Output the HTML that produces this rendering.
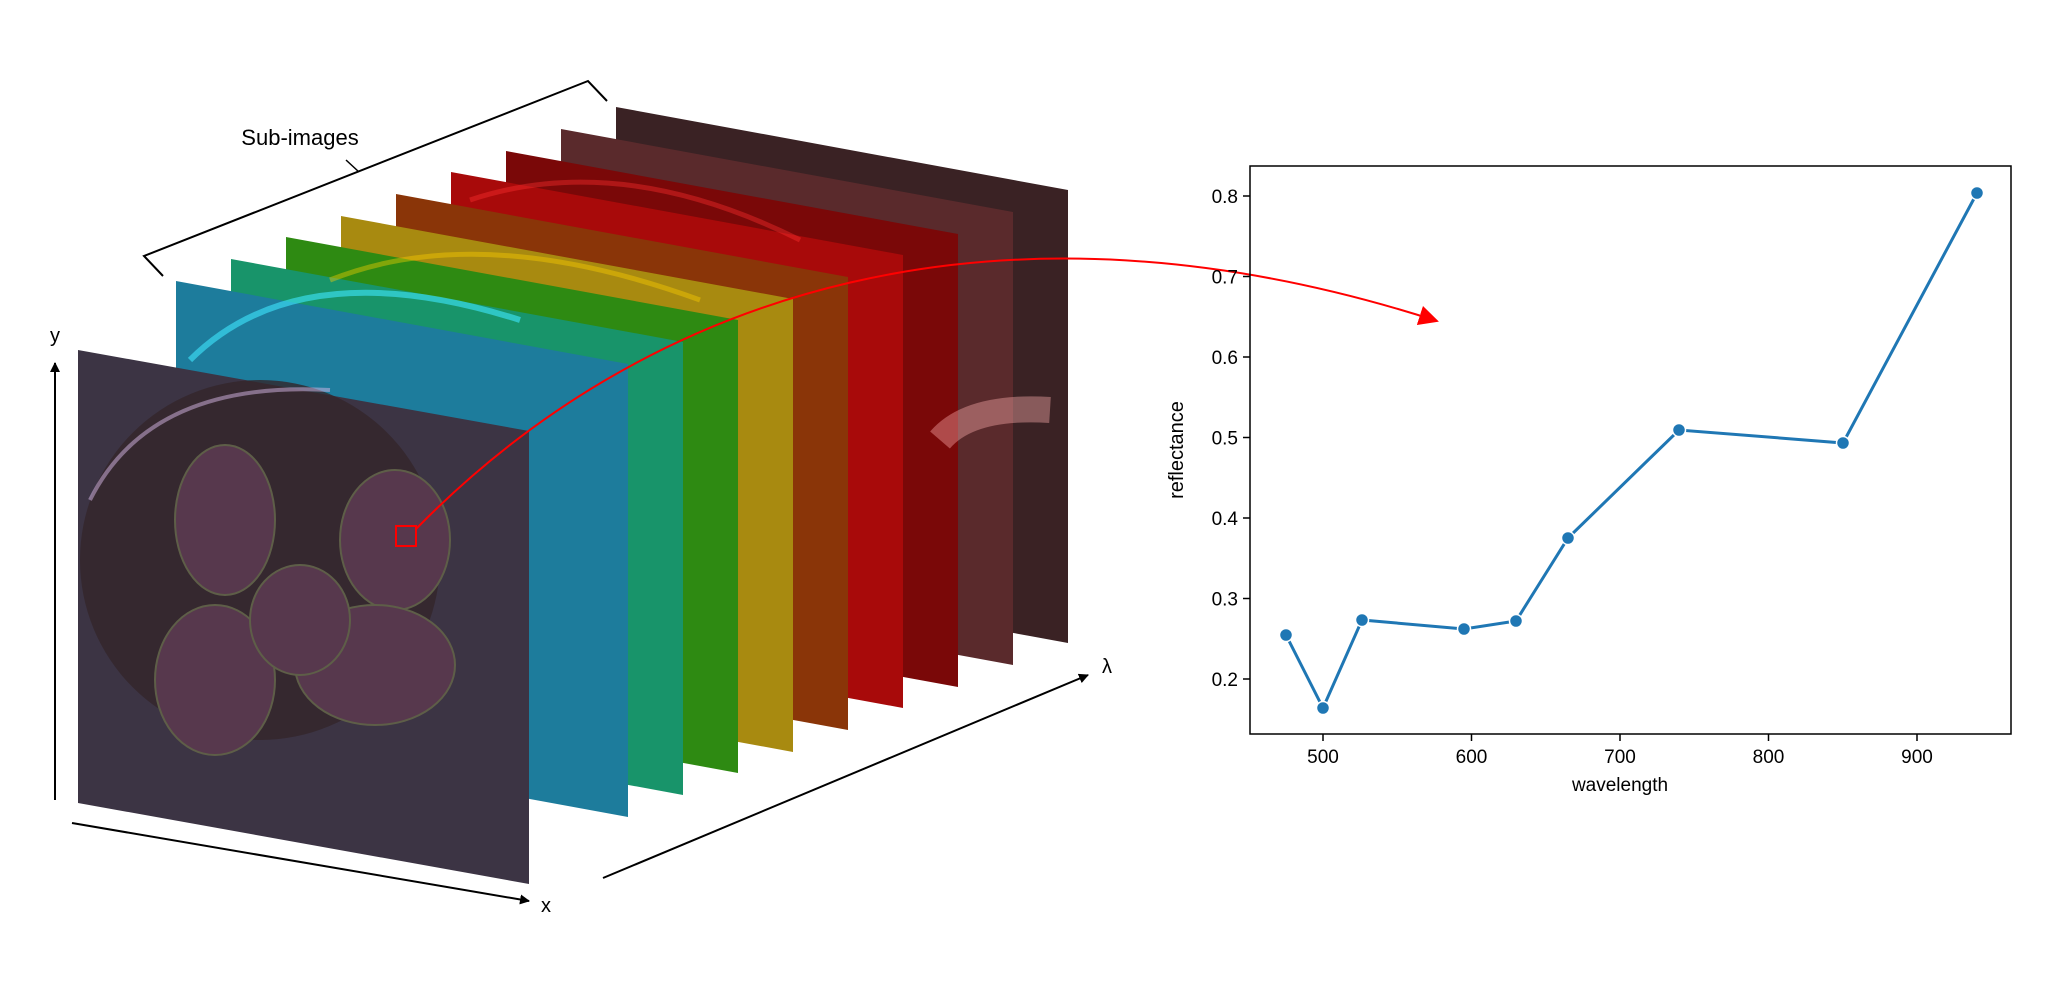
<!DOCTYPE html>
<html><head><meta charset="utf-8"><style>html,body{margin:0;padding:0;background:#fff}svg{display:block}</style></head>
<body>
<svg width="2048" height="982" viewBox="0 0 2048 982" xmlns="http://www.w3.org/2000/svg" font-family="Liberation Sans, DejaVu Sans, sans-serif">
<defs>
<marker id="ah" viewBox="0 0 10 10" refX="9" refY="5" markerWidth="10" markerHeight="10" orient="auto" markerUnits="userSpaceOnUse"><path d="M0,0 L10,5 L0,10 z" fill="#000"/></marker>
<marker id="ahr" viewBox="0 0 10 10" refX="9" refY="5" markerWidth="20" markerHeight="20" orient="auto" markerUnits="userSpaceOnUse"><path d="M0,0 L10,5 L0,10 z" fill="#f00"/></marker>
</defs>
<g>
<polygon points="616,107 1068,190 1068,643 616,560" fill="#3a2224"/>
<polygon points="561,129 1013,212 1013,665 561,582" fill="#5a2a2c"/>
<polygon points="506,151 958,234 958,687 506,604" fill="#7a0808"/>
<polygon points="451,172 903,255 903,708 451,625" fill="#a80a0a"/>
<polygon points="396,194 848,277 848,730 396,647" fill="#8a3508"/>
<polygon points="341,216 793,299 793,752 341,669" fill="#a88a10"/>
<polygon points="286,237 738,320 738,773 286,690" fill="#2e8a12"/>
<polygon points="231,259 683,342 683,795 231,712" fill="#18946a"/>
<polygon points="176,281 628,364 628,817 176,734" fill="#1d7c9c"/>
<path d="M190,360 Q300,250 520,320" stroke="#40e8ff" stroke-width="6" fill="none" opacity="0.6"/>
<path d="M330,280 Q480,220 700,300" stroke="#ffd000" stroke-width="5" fill="none" opacity="0.4"/>
<path d="M470,200 Q620,150 800,240" stroke="#ff3030" stroke-width="5" fill="none" opacity="0.4"/>
<path d="M940,440 Q970,405 1050,410" stroke="#ffb0b0" stroke-width="26" fill="none" opacity="0.4"/>
<!-- front -->
<polygon points="78,350 529,431 529,884 78,803" fill="#3c3444"/>
<ellipse cx="260" cy="560" rx="180" ry="180" fill="#33262a" opacity="0.8"/>
<path d="M90,500 Q150,380 330,390" stroke="#d8b8e8" stroke-width="4" fill="none" opacity="0.5"/>
<g fill="#57384d" stroke="#5e5e48" stroke-width="2">
<ellipse cx="225" cy="520" rx="50" ry="75"/>
<ellipse cx="395" cy="540" rx="55" ry="70"/>
<ellipse cx="215" cy="680" rx="60" ry="75"/>
<ellipse cx="375" cy="665" rx="80" ry="60"/>
<ellipse cx="300" cy="620" rx="50" ry="55"/>
</g>
<rect x="396" y="526" width="20" height="20" fill="none" stroke="#f00" stroke-width="2"/>
</g>
<line x1="55" y1="800" x2="55" y2="363" stroke="#000" stroke-width="2" marker-end="url(#ah)"/>
<text x="55" y="342" font-size="20" text-anchor="middle">y</text>
<line x1="72" y1="823" x2="529" y2="901" stroke="#000" stroke-width="2" marker-end="url(#ah)"/>
<text x="546" y="912" font-size="20" text-anchor="middle">x</text>
<line x1="603" y1="878" x2="1088" y2="675" stroke="#000" stroke-width="2" marker-end="url(#ah)"/>
<text x="1107" y="673" font-size="20" text-anchor="middle">λ</text>
<polyline points="163,276 144,256 588,81 607,101" fill="none" stroke="#000" stroke-width="2"/>
<line x1="346" y1="160" x2="359" y2="172" stroke="#000" stroke-width="1.5"/>
<text x="300" y="145" font-size="22" text-anchor="middle">Sub-images</text>
<path d="M416,529 C650,290 1000,180 1437,321" fill="none" stroke="#f00" stroke-width="2" marker-end="url(#ahr)"/>
<rect x="1250" y="166" width="761" height="568" fill="none" stroke="#000" stroke-width="1.5"/>
<g stroke="#000" stroke-width="1.5">
<line x1="1323" y1="734" x2="1323" y2="741"/><line x1="1471.5" y1="734" x2="1471.5" y2="741"/><line x1="1620" y1="734" x2="1620" y2="741"/><line x1="1768.5" y1="734" x2="1768.5" y2="741"/><line x1="1917" y1="734" x2="1917" y2="741"/>
<line x1="1243" y1="196" x2="1250" y2="196"/><line x1="1243" y1="276.5" x2="1250" y2="276.5"/><line x1="1243" y1="357" x2="1250" y2="357"/><line x1="1243" y1="437.5" x2="1250" y2="437.5"/><line x1="1243" y1="518" x2="1250" y2="518"/><line x1="1243" y1="598.5" x2="1250" y2="598.5"/><line x1="1243" y1="679" x2="1250" y2="679"/>
</g>
<g font-size="19" text-anchor="middle">
<text x="1323" y="763">500</text><text x="1471.5" y="763">600</text><text x="1620" y="763">700</text><text x="1768.5" y="763">800</text><text x="1917" y="763">900</text>
<text x="1620" y="791">wavelength</text>
</g>
<g font-size="19" text-anchor="end">
<text x="1238" y="203">0.8</text><text x="1238" y="283.5">0.7</text><text x="1238" y="364">0.6</text><text x="1238" y="444.5">0.5</text><text x="1238" y="525">0.4</text><text x="1238" y="605.5">0.3</text><text x="1238" y="686">0.2</text>
</g>
<text transform="translate(1183,450) rotate(-90)" font-size="20" text-anchor="middle">reflectance</text>
<polyline fill="none" stroke="#1f77b4" stroke-width="3" points="1286,635 1323,708 1362,620 1464,629 1516,621 1568,538 1679,430 1843,443 1977,193"/>
<g fill="#1f77b4" stroke="#fff" stroke-width="1.5">
<circle cx="1286" cy="635" r="6.5"/><circle cx="1323" cy="708" r="6.5"/><circle cx="1362" cy="620" r="6.5"/><circle cx="1464" cy="629" r="6.5"/><circle cx="1516" cy="621" r="6.5"/><circle cx="1568" cy="538" r="6.5"/><circle cx="1679" cy="430" r="6.5"/><circle cx="1843" cy="443" r="6.5"/><circle cx="1977" cy="193" r="6.5"/>
</g>
</svg>
</body></html>
